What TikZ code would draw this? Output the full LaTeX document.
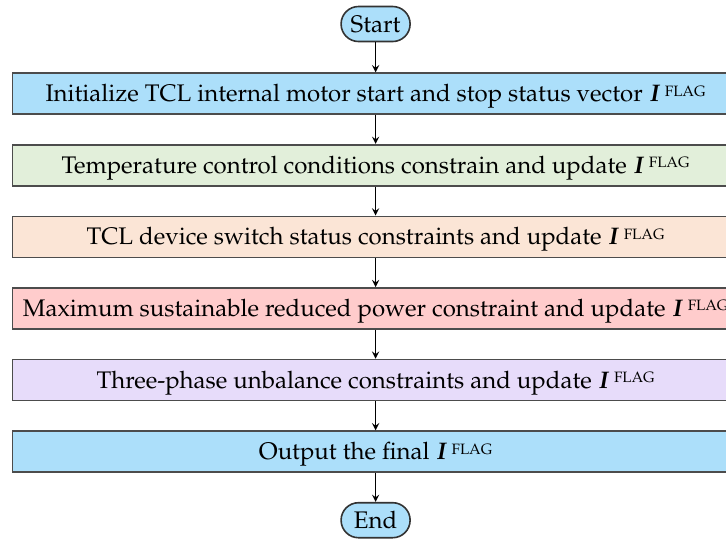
\documentclass[tikz,border=0pt]{standalone}
\usepackage[T1]{fontenc}
\usepackage{mathpazo}
\usepackage{bm}
\usepackage{xcolor}
\usetikzlibrary{positioning,arrows}

\definecolor{stepblue}{RGB}{172,223,250}
\definecolor{stepgreen}{RGB}{226,239,218}
\definecolor{steppeach}{RGB}{251,229,214}
\definecolor{steppink}{RGB}{255,204,204}
\definecolor{steplilac}{RGB}{231,220,250}

\newcommand{\iflag}{$\bm{I}$\,\raisebox{2.8pt}{\fontsize{7.5}{9}\selectfont FLAG}}

\begin{document}
\begin{tikzpicture}[
    node distance=14.5pt,
    stepbox/.style={rectangle,draw=black!70,thick,minimum width=363pt,minimum height=20.5pt,inner sep=0pt,text height=8.6pt,text depth=0.6pt,font=\fontsize{12}{14}\selectfont},
    term/.style={rectangle,draw=black!80,thick,rounded corners=8.7pt,minimum width=34.5pt,minimum height=17.5pt,inner sep=1pt,text height=8.6pt,text depth=0.6pt,fill=stepblue,font=\fontsize{12}{14}\selectfont},
    arrow/.style={->,>=stealth,semithick,black}
]
\useasboundingbox (0,0) rectangle (363pt,-269pt);

\node[term] (start) at (187.8pt,-12pt) {Start};
\node[stepbox,below=15pt of start,fill=stepblue] (init) {Initialize TCL internal motor start and stop status vector \iflag};
\node[stepbox,below=of init,fill=stepgreen] (temp) {Temperature control conditions constrain and update \iflag};
\node[stepbox,below=of temp,fill=steppeach] (switch) {TCL device switch status constraints and update \iflag};
\node[stepbox,below=of switch,fill=steppink] (power) {Maximum sustainable reduced power constraint and update \iflag};
\node[stepbox,below=of power,fill=steplilac] (phase) {Three-phase unbalance constraints and update \iflag};
\node[stepbox,below=of phase,fill=stepblue] (output) {Output the final \iflag};
\node[term,below=14.5pt of output] (end) {End};

\draw[arrow] (start) -- (init);
\draw[arrow] (init) -- (temp);
\draw[arrow] (temp) -- (switch);
\draw[arrow] (switch) -- (power);
\draw[arrow] (power) -- (phase);
\draw[arrow] (phase) -- (output);
\draw[arrow] (output) -- (end);

\end{tikzpicture}
\end{document}
